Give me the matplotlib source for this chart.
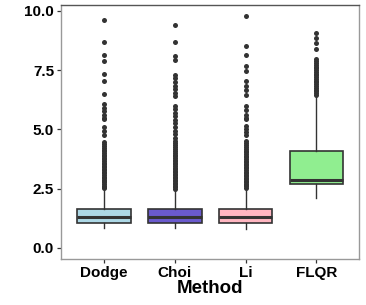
import matplotlib
matplotlib.use('Agg')
import matplotlib.pyplot as plt

plt.rcParams['font.family'] = ['Liberation Sans', 'DejaVu Sans']

# box summaries
methods = ['Dodge', 'Choi', 'Li', 'FLQR']
colors = ['#add8e6', '#6a5acd', '#ffb6c1', '#90ee90']
q1 = [1.05, 1.05, 1.05, 2.70]
med = [1.32, 1.32, 1.31, 2.85]
q3 = [1.65, 1.65, 1.65, 4.10]
whis_lo = [0.82, 0.82, 0.81, 2.12]
whis_hi = [2.47, 2.45, 2.48, 6.35]

# outliers
dodge_out = [2.52, 2.58, 2.63, 2.70, 2.76, 2.81, 2.88, 2.95, 3.01, 3.08, 3.14, 3.20,
             3.27, 3.33, 3.40, 3.46, 3.53, 3.60, 3.66, 3.73, 3.80, 3.87, 3.93, 4.00,
             4.07, 4.15, 4.22, 4.30, 4.38, 4.47, 4.75, 4.92, 5.09, 5.42, 5.50, 5.62,
             5.78, 5.92, 6.05, 6.50, 7.06, 7.35, 7.87, 8.16, 8.67, 9.60]
choi_out = [2.50, 2.56, 2.62, 2.68, 2.74, 2.80, 2.87, 2.93, 3.00, 3.06, 3.13, 3.19,
            3.26, 3.32, 3.39, 3.45, 3.52, 3.58, 3.65, 3.72, 3.79, 3.86, 3.93, 4.00,
            4.08, 4.16, 4.24, 4.33, 4.42, 4.50, 4.65, 4.80, 4.95, 5.10, 5.25, 5.40,
            5.55, 5.70, 5.85, 6.00, 6.40, 6.55, 6.70, 6.85, 7.00, 7.15, 7.30, 7.92,
            8.08, 8.67, 9.42]
li_out = [2.53, 2.59, 2.65, 2.71, 2.77, 2.83, 2.90, 2.96, 3.03, 3.09, 3.16, 3.22,
          3.29, 3.35, 3.42, 3.48, 3.55, 3.62, 3.68, 3.75, 3.82, 3.89, 3.96, 4.03,
          4.10, 4.18, 4.26, 4.34, 4.42, 4.50, 4.78, 4.90, 5.02, 5.13, 5.42, 5.50,
          5.60, 5.80, 5.97, 6.47, 6.65, 6.85, 7.03, 7.45, 7.66, 8.15, 8.50, 9.80]
flqr_out = [6.45, 6.52, 6.60, 6.68, 6.75, 6.83, 6.90, 6.98, 7.05, 7.13, 7.20, 7.28,
            7.35, 7.43, 7.50, 7.58, 7.65, 7.73, 7.80, 7.88, 7.95, 8.40, 8.65, 8.86,
            9.07]
outliers = [dodge_out, choi_out, li_out, flqr_out]

yticks = [0.0, 2.5, 5.0, 7.5, 10.0]

stats = []
for i, m in enumerate(methods):
    stats.append({'label': m, 'q1': q1[i], 'med': med[i], 'q3': q3[i],
                  'whislo': whis_lo[i], 'whishi': whis_hi[i], 'fliers': outliers[i]})

fig = plt.figure(figsize=(3.66, 3.05), dpi=100)
ax = fig.add_axes([0.1667, 0.151, 0.8143, 0.8326])

dark = '#333333'
bp = ax.bxp(stats, positions=range(1, 5), widths=0.76, patch_artist=True,
            showcaps=False,
            boxprops=dict(edgecolor=dark, linewidth=1.2),
            medianprops=dict(color=dark, linewidth=2.2),
            whiskerprops=dict(color=dark, linewidth=1.0),
            flierprops=dict(marker='o', markersize=3.6, markerfacecolor=dark,
                            markeredgewidth=0, linestyle='none'))
for patch, c in zip(bp['boxes'], colors):
    patch.set_facecolor(c)

ax.set_xlim(0.4, 4.6)
ax.set_ylim(-0.47, 10.25)
ax.set_yticks(yticks)
ax.set_yticklabels(['%.1f' % v for v in yticks])
ax.set_xticks(range(1, 5))
ax.set_xticklabels(methods)

for s in ['left', 'bottom', 'right']:
    ax.spines[s].set_color('#999999')
ax.spines['top'].set_color('#555555')
for s in ax.spines.values():
    s.set_linewidth(1.0)

ax.tick_params(axis='both', length=3, width=0.9, color=dark, pad=2,
               labelsize=11, labelcolor='black')
for lab in ax.get_xticklabels() + ax.get_yticklabels():
    lab.set_fontweight('bold')

ax.set_xlabel('Method', fontsize=13.5, fontweight='bold', labelpad=0)

fig.savefig('out.png', dpi=100)
